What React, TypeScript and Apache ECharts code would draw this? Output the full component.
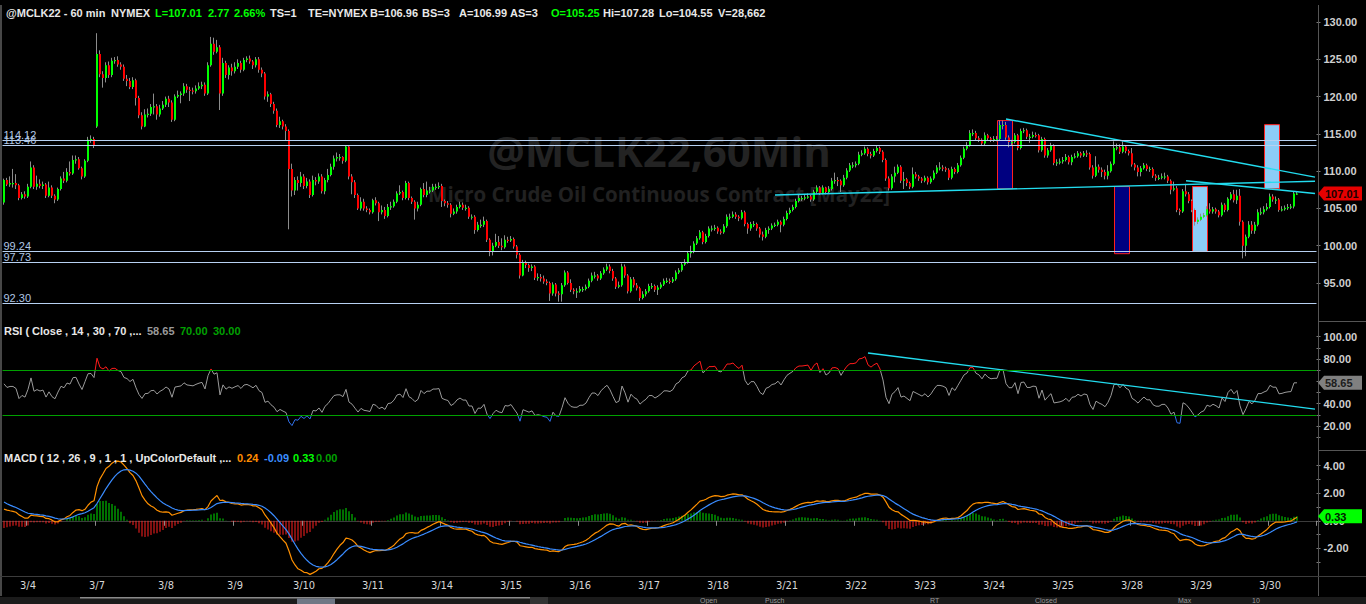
import React, { useEffect, useRef } from 'react';
import * as echarts from 'echarts';

// ---------- data ----------
const dayLabels = ['3/4', '3/7', '3/8', '3/9', '3/10', '3/11', '3/14', '3/15', '3/16', '3/17', '3/18', '3/21', '3/22', '3/23', '3/24', '3/25', '3/28', '3/29', '3/30'];
const prevDayLabel = '3/3';
const FIRST_LABEL_BAR = 8;
const BARS_PER_DAY = 23;
const EMPTY_BARS_RIGHT = 6;

// closes before the visible window (indicator warm-up)
const warmupCloses = [96.8, 97.2, 96.9, 97.5, 98.1, 97.8, 98.4, 98.9, 98.6, 99.2, 99.8, 99.5, 100.1, 99.7, 100.4, 100.9, 100.6, 101.2, 100.8, 101.3, 102.1, 102.9, 102.5, 103.6, 104.4, 104.1, 105.3, 106.2, 105.8, 107.1, 108.0, 107.6, 108.9, 109.8, 110.6, 111.2, 110.4, 110.9, 109.8, 110.3, 109.5, 108.8, 109.4, 108.6, 107.9, 108.5, 107.7, 108.2, 107.4, 106.9];

// hourly bars: [open, close, low, high]
const ohlc: number[][] = [
  [105.8,108.8,105.5,109.0],[108.8,108.2,108.0,109.1],[108.2,108.4,107.9,109.3],[108.4,108.4,107.8,110.3],[108.4,108.1,107.6,109.6],[108.1,106.4,106.1,108.3],[106.4,106.9,106.2,107.2],[106.9,106.6,106.3,107.3],
  [106.6,107.9,106.4,108.3],[107.9,110.5,107.7,111.3],[110.5,107.9,107.6,110.8],[107.9,108.3,107.5,109.4],[108.3,108.0,107.7,108.9],[108.0,108.2,107.6,108.6],[108.2,106.7,106.4,108.4],[106.7,107.8,106.5,108.6],
  [107.8,106.7,106.4,108.1],[106.7,106.2,105.7,106.9],[106.2,107.6,106.0,107.8],[107.6,109.0,107.4,109.3],[109.0,108.7,108.4,109.9],[108.7,109.9,108.5,110.4],[109.9,109.7,109.4,111.3],[109.7,111.5,109.5,112.1],
  [111.5,111.6,111.0,112.1],[111.6,110.4,110.2,111.9],[110.4,109.3,108.9,110.6],[109.3,111.4,109.1,111.6],[111.4,114.2,111.2,114.6],[114.2,114.3,113.8,114.8],[114.3,113.5,113.1,114.6],[116.0,125.7,115.8,128.5],
  [125.7,123.0,122.6,126.2],[123.0,122.5,121.2,123.4],[122.5,124.2,121.9,124.6],[124.2,122.9,122.5,124.7],[122.9,124.8,122.6,125.2],[124.8,124.9,124.4,125.3],[124.9,124.3,124.0,125.4],[124.3,124.0,123.6,124.6],
  [124.0,122.4,122.1,124.3],[122.4,122.1,121.4,122.9],[122.1,121.3,121.0,122.5],[121.3,122.2,121.0,122.6],[122.2,119.8,118.8,122.4],[119.8,117.5,117.1,120.1],[117.5,116.0,115.6,117.9],[116.0,117.6,115.9,118.3],
  [117.6,117.7,117.2,118.4],[117.7,118.6,117.4,119.0],[118.6,118.7,117.6,120.4],[118.7,117.6,116.9,119.0],[117.6,118.4,117.3,118.9],[118.4,118.9,118.2,119.4],[118.9,119.7,118.6,120.0],[119.7,119.2,118.6,120.1],
  [119.2,116.9,116.6,119.5],[116.9,120.0,116.7,120.3],[120.0,120.2,119.8,120.8],[120.2,120.4,119.1,120.7],[120.4,121.4,120.1,121.8],[121.4,120.9,120.5,121.7],[120.9,120.8,119.4,121.3],[120.8,120.7,120.3,121.2],
  [120.7,121.1,120.4,121.5],[121.1,121.4,120.9,121.9],[121.4,121.6,121.0,122.0],[121.6,120.4,120.1,121.9],[120.4,124.2,120.2,124.6],[124.2,127.1,124.0,128.0],[127.1,126.0,125.6,127.9],[126.0,126.6,125.8,127.6],
  [126.6,120.4,118.2,126.9],[120.4,124.5,120.1,125.2],[124.5,122.9,122.5,124.8],[122.9,123.9,122.3,124.2],[123.9,123.4,122.8,124.4],[123.4,124.0,123.1,124.6],[124.0,124.5,123.7,125.0],[124.5,123.6,123.2,124.8],
  [123.6,124.9,123.4,125.2],[124.9,125.1,124.6,125.4],[125.1,124.7,124.4,125.5],[124.7,124.2,123.7,124.9],[124.2,125.0,123.9,125.3],[125.0,123.6,123.2,125.3],[123.6,123.1,122.6,123.9],[123.1,120.0,119.6,123.3],
  [120.0,120.3,119.3,120.7],[120.3,119.0,118.6,120.5],[119.0,118.1,117.7,119.3],[118.1,116.2,115.9,118.4],[116.2,116.7,115.8,117.3],[116.7,116.0,115.6,116.9],[116.0,115.4,114.1,116.3],[115.4,110.3,102.2,115.6],
  [110.3,107.4,106.6,111.0],[107.4,108.8,106.8,109.2],[108.8,108.4,107.4,109.3],[108.4,109.3,107.9,109.9],[109.3,108.0,107.6,109.6],[108.0,108.6,107.7,109.1],[108.6,106.8,106.4,108.9],[106.8,108.8,106.6,109.4],
  [108.8,108.6,108.1,109.2],[108.6,109.3,108.3,109.7],[109.3,107.3,107.0,109.6],[107.3,108.8,106.9,109.1],[108.8,109.5,108.5,110.3],[109.5,110.6,109.3,111.0],[110.6,111.7,110.2,112.1],[111.7,111.9,111.3,112.5],
  [111.9,111.9,111.4,112.3],[111.9,111.4,111.0,112.0],[111.4,113.3,111.2,113.4],[113.3,109.3,108.9,113.4],[109.3,108.5,106.9,109.6],[108.5,106.8,106.4,108.8],[106.8,105.0,104.8,107.0],[105.0,105.9,104.7,106.5],
  [105.9,105.0,104.7,106.3],[105.0,104.8,104.5,105.3],[104.8,104.5,104.2,105.0],[104.5,106.1,104.3,106.3],[106.1,105.7,105.4,106.5],[105.7,104.5,103.3,105.9],[104.5,104.8,104.2,105.4],[104.8,104.0,103.6,105.2],
  [104.0,105.2,103.8,105.6],[105.2,105.3,104.8,105.9],[105.3,105.9,105.1,106.2],[105.9,107.0,105.7,107.3],[107.0,107.2,106.8,108.1],[107.2,106.4,106.1,107.4],[106.4,108.4,106.2,108.7],[108.4,106.4,106.1,108.6],
  [106.4,105.9,105.6,106.6],[105.9,105.0,103.5,106.1],[105.0,105.5,104.6,105.9],[105.5,107.6,105.3,107.8],[107.6,106.8,106.5,108.4],[106.8,107.4,106.5,108.6],[107.4,107.4,107.0,107.9],[107.4,107.9,107.2,108.3],
  [107.9,107.9,107.5,108.3],[107.9,108.0,107.6,108.5],[108.0,106.0,105.2,108.3],[106.0,105.7,105.3,106.2],[105.7,105.5,105.1,106.0],[105.5,104.3,103.8,105.7],[104.3,104.6,104.1,105.0],[104.6,105.2,104.3,105.5],
  [105.2,105.5,105.0,105.9],[105.5,105.1,104.8,105.8],[105.1,105.1,104.7,105.5],[105.1,103.9,103.6,105.3],[103.9,103.9,103.5,104.2],[103.9,102.1,101.6,104.1],[102.1,102.8,101.9,103.2],[102.8,102.8,102.4,103.5],
  [102.8,103.3,102.5,103.9],[103.3,100.8,100.5,103.5],[100.8,99.3,98.6,101.0],[99.3,100.0,98.7,100.4],[100.0,100.5,99.8,101.6],[100.5,100.0,99.7,101.3],[100.0,99.8,99.4,101.0],[99.8,100.8,99.6,101.4],
  [100.8,100.7,100.4,101.2],[100.7,100.9,100.5,101.3],[100.9,99.9,99.6,101.1],[99.9,98.8,98.3,100.1],[98.8,96.0,95.6,99.0],[96.0,97.8,95.9,98.1],[97.8,97.4,97.0,98.0],[97.4,97.0,96.5,97.6],
  [97.0,97.2,96.6,97.5],[97.2,95.7,95.4,97.4],[95.7,95.8,95.3,96.3],[95.8,95.6,95.2,96.2],[95.6,95.2,94.9,96.0],[95.2,95.0,94.7,95.5],[95.0,93.6,92.6,95.2],[93.6,94.8,93.3,95.1],
  [94.8,93.6,93.2,95.0],[93.6,93.5,92.5,93.9],[93.5,94.7,92.5,95.0],[94.7,96.4,94.5,96.7],[96.4,95.0,94.8,96.6],[95.0,94.1,93.8,95.5],[94.1,93.9,93.5,94.3],[93.9,93.9,93.0,94.3],
  [93.9,94.2,93.7,94.6],[94.2,94.2,93.8,94.5],[94.2,94.5,94.0,94.8],[94.5,95.3,94.3,95.6],[95.3,96.0,95.1,96.4],[96.0,96.0,95.6,96.5],[96.0,95.6,95.3,96.2],[95.6,96.3,95.4,96.6],
  [96.3,96.8,96.1,97.1],[96.8,97.2,96.6,97.6],[97.2,96.6,96.3,97.5],[96.6,95.6,95.3,96.9],[95.6,94.5,94.2,95.8],[94.5,94.7,94.3,95.2],[94.7,97.2,94.5,97.6],[97.2,96.0,95.7,97.5],
  [96.0,93.9,93.6,96.2],[93.9,95.5,93.7,95.8],[95.5,94.7,94.4,95.8],[94.7,94.3,94.0,95.0],[94.3,93.0,92.6,94.5],[93.0,93.5,92.8,93.9],[93.5,93.9,93.2,94.2],[93.9,94.6,93.7,94.9],
  [94.6,94.6,94.2,95.0],[94.6,94.1,93.8,94.8],[94.1,94.4,93.4,94.7],[94.4,94.8,94.2,95.1],[94.8,95.3,94.6,95.6],[95.3,95.3,95.0,95.7],[95.3,95.2,94.9,95.6],[95.2,95.5,95.0,95.8],
  [95.5,96.4,95.3,96.7],[96.4,96.7,96.2,97.0],[96.7,97.5,96.5,97.8],[97.5,97.8,97.3,98.2],[97.8,99.0,97.6,99.3],[99.0,99.2,98.4,100.0],[99.2,100.3,99.0,100.6],[100.3,101.0,100.1,101.3],
  [101.0,101.8,100.8,102.1],[101.8,100.5,100.2,102.0],[100.5,101.3,100.3,101.6],[101.3,102.3,101.1,102.6],[102.3,102.3,101.9,102.7],[102.3,102.4,102.0,102.8],[102.4,101.9,101.6,102.6],[101.9,101.8,101.5,102.2],
  [101.8,102.6,101.6,102.9],[102.6,103.9,102.4,104.2],[103.9,103.9,103.5,104.3],[103.9,104.2,103.7,104.6],[104.2,103.9,103.6,104.5],[103.9,103.7,103.3,104.1],[103.7,104.5,103.5,104.8],[104.5,102.9,102.6,104.7],
  [102.9,102.3,101.6,103.1],[102.3,102.9,102.0,103.2],[102.9,102.9,102.5,103.3],[102.9,102.3,102.0,103.1],[102.3,101.5,101.1,102.5],[101.5,101.2,100.7,101.9],[101.2,102.1,101.0,102.4],[102.1,102.3,101.6,102.6],
  [102.3,102.7,102.1,103.0],[102.7,102.8,102.5,103.1],[102.8,103.2,102.6,103.5],[103.2,102.8,101.8,103.4],[102.8,103.6,102.6,103.9],[103.6,104.4,103.4,104.7],[104.4,104.8,104.2,105.1],[104.8,105.2,104.6,105.5],
  [105.2,106.0,105.0,106.3],[106.0,106.4,105.8,106.8],[106.4,106.4,106.0,106.7],[106.4,106.5,106.1,106.9],[106.5,106.6,106.3,107.0],[106.6,106.2,105.9,106.8],[106.2,107.25,106.0,107.5],[107.25,107.8,107.0,108.1],
  [107.8,107.0,106.8,108.0],[107.0,107.8,106.9,108.1],[107.8,107.2,106.9,107.9],[107.2,107.6,107.0,108.0],[107.6,108.7,107.4,109.1],[108.7,108.8,108.3,109.8],[108.8,108.7,108.0,109.2],[108.7,108.1,107.2,108.9],
  [108.1,109.1,107.9,109.5],[109.1,110.1,108.9,110.4],[110.1,110.8,109.9,111.1],[110.8,110.8,110.4,111.2],[110.8,111.0,110.5,111.3],[111.0,112.2,110.8,112.6],[112.2,112.4,112.0,112.8],[112.4,113.0,112.2,113.3],
  [113.0,112.3,112.0,113.2],[112.3,112.1,111.7,112.6],[112.1,112.7,111.9,113.0],[112.7,113.1,112.5,113.5],[113.1,112.6,112.3,113.3],[112.6,111.5,111.2,112.8],[111.5,109.0,108.7,111.7],[109.0,107.7,107.4,109.3],
  [107.7,109.3,107.5,109.6],[109.3,109.8,108.5,110.6],[109.8,110.6,109.6,110.9],[110.6,108.7,108.4,110.8],[108.7,108.9,107.6,109.9],[108.9,108.4,108.0,109.1],[108.4,107.9,107.6,108.6],[107.9,109.6,107.7,110.5],
  [109.6,109.3,109.0,109.9],[109.3,109.0,108.7,109.5],[109.0,108.7,108.4,109.2],[108.7,109.1,108.5,109.4],[109.1,108.5,108.2,109.3],[108.5,109.0,108.3,109.3],[109.0,109.8,108.8,110.1],[109.8,110.5,109.6,110.8],
  [110.5,110.5,110.1,111.2],[110.5,110.4,110.0,110.8],[110.4,110.2,109.9,110.6],[110.2,109.1,108.8,110.4],[109.1,110.3,108.9,110.6],[110.3,109.9,109.6,110.5],[109.9,110.8,109.7,111.1],[110.8,111.8,110.6,112.1],
  [111.8,113.0,111.6,113.3],[113.0,113.5,112.8,113.9],[113.5,115.1,113.3,115.5],[115.1,115.1,114.7,115.6],[115.1,114.4,114.1,115.4],[114.4,114.2,113.9,114.7],[114.2,113.7,113.4,114.4],[113.7,114.8,113.5,115.2],
  [114.8,114.4,114.1,115.0],[114.4,114.2,113.9,114.6],[114.2,114.3,113.9,114.7],[114.3,114.3,114.0,114.7],[114.3,116.2,114.1,116.8],[116.2,116.2,115.6,116.8],[116.2,114.5,114.2,116.6],[114.5,113.9,113.2,114.8],
  [113.9,113.9,113.5,114.2],[113.9,114.8,113.7,115.1],[114.8,113.1,112.8,115.0],[113.1,115.4,112.9,115.7],[115.4,115.5,115.1,115.8],[115.5,114.6,114.3,115.7],[114.6,114.6,113.8,115.0],[114.6,114.85,114.4,115.3],
  [114.85,114.8,114.5,115.2],[114.8,112.8,112.5,115.0],[112.8,114.3,112.6,114.6],[114.3,112.1,111.8,114.5],[112.1,112.8,111.8,113.1],[112.8,113.4,112.6,113.8],[113.4,111.1,110.8,113.6],[111.1,111.2,110.7,111.6],
  [111.2,111.3,110.9,111.7],[111.3,111.5,111.0,111.9],[111.5,111.9,111.3,112.3],[111.9,111.2,110.9,112.1],[111.2,111.9,110.8,112.2],[111.9,112.0,111.7,112.4],[112.0,112.4,111.8,112.7],[112.4,112.1,111.8,112.6],
  [112.1,112.4,111.9,112.7],[112.4,112.3,111.9,112.8],[112.3,110.5,110.2,112.5],[110.5,109.4,109.0,110.8],[109.4,110.6,109.2,112.0],[110.6,110.2,109.8,110.9],[110.2,109.9,109.2,110.5],[109.9,109.4,108.9,110.2],
  [109.4,110.0,108.9,110.8],[110.0,111.0,109.8,111.3],[111.0,113.1,110.8,114.0],[113.1,113.2,112.8,113.7],[113.2,112.6,112.3,113.6],[112.6,113.3,112.4,114.0],[113.3,112.7,112.4,113.5],[112.7,112.4,112.1,112.9],
  [112.4,110.9,110.6,113.1],[110.9,110.5,110.1,111.1],[110.5,109.9,109.3,110.8],[109.9,110.4,109.3,110.7],[110.4,110.8,110.2,111.1],[110.8,110.3,110.0,111.0],[110.3,110.3,109.9,110.6],[110.3,109.4,109.1,110.5],
  [109.4,109.1,108.7,109.6],[109.1,109.1,108.8,109.5],[109.1,109.3,108.9,109.7],[109.3,109.3,108.9,109.8],[109.3,108.7,108.4,109.5],[108.7,107.5,106.9,108.9],[107.5,107.7,107.3,108.6],[107.7,104.8,104.5,108.0],
  [104.8,104.6,104.1,105.0],[104.6,107.3,104.4,107.6],[107.3,106.9,106.6,108.3],[106.9,106.0,105.7,107.2],[106.0,104.8,104.5,106.2],[104.8,103.2,102.7,105.0],[103.2,103.5,102.9,103.8],[103.5,103.9,103.3,104.3],
  [103.9,104.1,103.7,104.4],[104.1,104.9,103.9,105.3],[104.9,104.6,104.3,105.7],[104.6,104.9,104.3,105.2],[104.9,104.6,104.3,105.1],[104.6,104.1,103.8,104.8],[104.1,105.5,103.9,105.8],[105.5,104.8,104.5,105.7],
  [104.8,106.3,104.6,106.5],[106.3,106.9,106.1,107.2],[106.9,106.1,105.8,107.5],[106.1,106.7,105.6,107.5],[106.7,103.2,102.7,107.6],[103.2,100.0,98.3,103.4],[100.0,101.2,98.6,101.5],[101.2,102.8,101.0,103.3],
  [102.8,102.0,101.6,103.3],[102.0,102.8,101.6,103.2],[102.8,104.5,102.6,104.9],[104.5,104.5,104.1,105.1],[104.5,104.9,104.2,105.3],[104.9,105.2,104.7,105.7],[105.2,106.6,105.0,107.0],[106.6,106.2,105.9,106.9],
  [106.2,106.2,105.6,106.6],[106.2,104.8,104.55,106.4],[104.8,104.9,104.6,105.3],[104.9,105.1,104.7,105.4],[105.1,105.2,104.8,105.6],[105.2,105.25,104.9,105.6],[105.25,107.0,105.0,107.28],[107.0,107.01,106.8,107.2],
];

const priceLevels = [114.12, 113.46, 99.24, 97.73, 92.3];
const priceTickValues = [95, 100, 105, 110, 115, 120, 125, 130];
const rsiTickMarks = [10, 20, 30, 40, 50, 60, 70, 80, 90, 100];
const rsiTickLabels = [20, 40, 60, 80, 100];
const rsiBands = [70, 30];
const macdTickMarks = [-3, -2, -1, 0, 1, 2, 3, 4];
const macdTickLabels = [-2, 0, 2, 4];

// trend lines: [barIndex, value]
const priceTrendLines = [
  [[334, 117.0], [437, 109.2]],
  [[257, 106.8], [437, 108.65]],
  [[394, 108.72], [437, 107.0]],
];
const rsiTrendLine = [[288, 85.4], [437, 35.2]];

// zone boxes: [fromBar, toBar, topPrice, bottomPrice, kind]
const zoneBoxes: (number | string)[][] = [
  [330.7, 335.7, 116.85, 107.7, 'dark'],
  [369.7, 374.7, 108.0, 99.0, 'dark'],
  [395.7, 400.7, 108.0, 99.3, 'light'],
  [419.7, 424.7, 116.3, 107.7, 'light'],
];

const lastPrice = 107.01;
const lastRsi = 58.65;
const lastMacdDiff = 0.33;

const WHITE = '#e8e8e8';
const GREEN = '#00ff00';
const DKGREEN = '#00a000';
const headerTokens: [string, number, string][] = [
  ['@MCLK22 - 60 min', 6, WHITE], ['NYMEX', 111, WHITE], ['L=107.01', 155, GREEN], ['2.77', 208, GREEN], ['2.66%', 234, GREEN],
  ['TS=1', 270, WHITE], ['TE=NYMEX', 308, WHITE], ['B=106.96', 370, WHITE], ['BS=3', 422, WHITE], ['A=106.99', 459, WHITE],
  ['AS=3', 510, WHITE], ['O=105.25', 551, GREEN], ['Hi=107.28', 603, WHITE], ['Lo=104.55', 659, WHITE], ['V=28,662', 718, WHITE],
];
const rsiHeaderTokens: [string, number, string][] = [
  ['RSI ( Close , 14 , 30 , 70 ,...', 4, WHITE], ['58.65', 147, '#9a9a9a'], ['70.00', 180, DKGREEN], ['30.00', 213, DKGREEN],
];
const macdHeaderTokens: [string, number, string][] = [
  ['MACD ( 12 , 26 , 9 , 1 , 1 , UpColorDefault ,...', 4, WHITE], ['0.24', 237, '#ff8c00'], ['-0.09', 264, '#3b8eff'], ['0.33', 293, GREEN], ['0.00', 316, DKGREEN],
];
const statusTokens: [string, number][] = [['Open', 700], ['Pusch', 765], ['RT', 930], ['Closed', 1035], ['Max', 1178], ['10', 1252]];

// ---------- indicators ----------
function computeRsi(cl: number[], period: number) {
  const out: (number | null)[] = cl.map(() => null);
  let g = 0, l = 0;
  for (let t = 1; t <= period; t++) { const d = cl[t] - cl[t - 1]; if (d > 0) g += d; else l -= d; }
  g /= period; l /= period;
  out[period] = l === 0 ? 100 : 100 - 100 / (1 + g / l);
  for (let t = period + 1; t < cl.length; t++) {
    const d = cl[t] - cl[t - 1];
    g = (g * (period - 1) + Math.max(d, 0)) / period;
    l = (l * (period - 1) + Math.max(-d, 0)) / period;
    out[t] = l === 0 ? 100 : 100 - 100 / (1 + g / l);
  }
  return out;
}
function ema(arr: number[], n: number) {
  const k = 2 / (n + 1);
  const out: number[] = [];
  let e = arr[0];
  for (const v of arr) { e = e + k * (v - e); out.push(e); }
  return out;
}

const FONT = '"Liberation Sans", Arial, sans-serif';

function textEl(text: string, x: number, y: number, fill: string, size = 11, weight = 'bold', extra: any = {}) {
  return {
    type: 'text', x, y, silent: true, z: extra.z ?? 5,
    style: { text, fill, fontSize: size, fontWeight: weight, fontFamily: extra.family ?? FONT, align: extra.align ?? 'left', verticalAlign: 'middle', textAlign: extra.align ?? 'left', textVerticalAlign: 'middle' },
  };
}

export default function App() {
  const ref = useRef<HTMLDivElement>(null);
  useEffect(() => {
    if (!ref.current) return;
    const chart = echarts.init(ref.current, null, { renderer: 'svg' });

    const totalBars = ohlc.length + EMPTY_BARS_RIGHT;
    const categories = Array.from({ length: totalBars }, (_, i) => {
      const d = i - FIRST_LABEL_BAR;
      if (d < 0) return prevDayLabel + ' ' + i;
      const di = Math.floor(d / BARS_PER_DAY);
      return (dayLabels[Math.min(di, dayLabels.length - 1)]) + ' ' + (d % BARS_PER_DAY) + (di >= dayLabels.length ? 'x' + i : '');
    });
    const isDayStart = (idx: number) => idx >= FIRST_LABEL_BAR && (idx - FIRST_LABEL_BAR) % BARS_PER_DAY === 0 && idx < FIRST_LABEL_BAR + dayLabels.length * BARS_PER_DAY;

    const closes = ohlc.map((d) => d[1]);
    const all = warmupCloses.concat(closes);
    const rsiAll = computeRsi(all, 14);
    const e12 = ema(all, 12), e26 = ema(all, 26);
    const macdAll = e12.map((v, i) => v - e26[i]);
    const sigAll = ema(macdAll, 9);
    const off = warmupCloses.length;
    const rsi = rsiAll.slice(off);
    const macd = macdAll.slice(off);
    const sig = sigAll.slice(off);
    const hist = macd.map((v, i) => v - sig[i]);

    const gridLeft = 2.5;
    const gridWidth = 3 * totalBars;
    const gridRight = 1366 - gridLeft - gridWidth;

    const candleData = ohlc.map((d, i) => [i, d[0], d[1], d[2], d[3]]);

    const option: any = {
      animation: false,
      backgroundColor: '#000000',
      grid: [
        { left: gridLeft, right: gridRight, top: 5, height: 313 },
        { left: gridLeft, right: gridRight, top: 323, height: 127 },
        { left: gridLeft, right: gridRight, top: 451, height: 125 },
      ],
      xAxis: [0, 1, 2].map((g) => ({
        type: 'category', gridIndex: g, data: categories, boundaryGap: true,
        show: g === 2,
        axisLine: { show: g === 2, lineStyle: { color: '#3c3c3c' } },
        axisTick: { show: g === 2, interval: (idx: number) => isDayStart(idx), length: 5, lineStyle: { color: '#8a8a8a' } },
        axisLabel: {
          show: g === 2, interval: (idx: number) => isDayStart(idx), formatter: (v: string) => v.split(' ')[0],
          color: '#d6d6d6', fontSize: 11, margin: 4, fontFamily: '"Liberation Sans Narrow", "DejaVu Sans Condensed", Arial, sans-serif',
        },
        splitLine: { show: false },
      })),
      yAxis: [
        { min: 90.31, max: 132.28, ticks: priceTickValues, labels: priceTickValues },
        { min: -1.5, max: 112.28, ticks: rsiTickMarks, labels: rsiTickLabels },
        { min: -4.01, max: 5.07, ticks: macdTickMarks, labels: macdTickLabels },
      ].map((a, g) => ({
        type: 'value', gridIndex: g, position: 'right', min: a.min, max: a.max,
        splitLine: { show: false }, axisLine: { show: false },
        axisTick: { show: true, customValues: a.ticks, length: 4, lineStyle: { color: '#7a7a7a' } },
        axisLabel: { customValues: a.labels, formatter: (v: number) => v.toFixed(2), color: '#cfcfcf', fontSize: 11, fontWeight: 'bold', margin: 7, fontFamily: FONT },
      })),
      visualMap: [{
        show: false, type: 'piecewise', seriesIndex: 6, dimension: 1,
        pieces: [{ lt: 30, color: '#2f6fe8' }, { gte: 30, lte: 70, color: '#9a9a9a' }, { gt: 70, color: '#ff1a1a' }],
      }],
      series: [
        // 0 zone boxes
        {
          type: 'custom', xAxisIndex: 0, yAxisIndex: 0, z: 1, silent: true,
          data: zoneBoxes.map((b) => [b[0], b[1], b[2], b[3], b[4] === 'dark' ? 0 : 1]),
          encode: { x: [0, 1], y: [2, 3] },
          renderItem: (params: any, api: any) => {
            const p1 = api.coord([api.value(0), api.value(2)]);
            const p2 = api.coord([api.value(1), api.value(3)]);
            return {
              type: 'rect', shape: { x: p1[0] + 0.5, y: p1[1] + 0.5, width: p2[0] - p1[0], height: p2[1] - p1[1] },
              style: { fill: api.value(4) === 0 ? '#000080' : '#8ccdf7', stroke: '#ff2020', lineWidth: 1 },
            };
          },
        },
        // 1 candles
        {
          type: 'custom', xAxisIndex: 0, yAxisIndex: 0, z: 3, silent: true,
          data: candleData, encode: { x: 0, y: [1, 2, 3, 4] },
          renderItem: (params: any, api: any) => {
            const i = api.value(0), o = api.value(1), c = api.value(2), lo = api.value(3), hi = api.value(4);
            const pO = api.coord([i, o]), pC = api.coord([i, c]), pL = api.coord([i, lo]), pH = api.coord([i, hi]);
            const cx = Math.round(pO[0]);
            const top = Math.min(pO[1], pC[1]);
            let h = Math.abs(pO[1] - pC[1]);
            if (h < 1.2) h = 1.2;
            return {
              type: 'group', children: [
                { type: 'line', shape: { x1: cx - 0.5, y1: pH[1], x2: cx - 0.5, y2: pL[1] }, style: { stroke: '#8c8c8c', lineWidth: 1 } },
                { type: 'rect', shape: { x: cx - 1, y: top, width: 2, height: h }, style: { fill: c >= o ? '#00ff00' : '#ff0000' } },
              ],
            };
          },
        },
        // 2-4 price trend lines (levels attached to first)
        ...priceTrendLines.map((tl, k) => ({
          type: 'line', xAxisIndex: 0, yAxisIndex: 0, z: 4, silent: true, symbol: 'none',
          data: tl, lineStyle: { color: '#22dcef', width: 1.4 },
          markLine: k === 0 ? {
            silent: true, symbol: ['none', 'none'], animation: false,
            lineStyle: { color: '#b7d1f2', width: 1, type: 'solid' },
            label: { show: true, position: 'insideStartTop', formatter: (p: any) => Number(p.value).toFixed(2), color: '#b0c6e4', fontSize: 11, fontFamily: FONT, distance: [1, 0] },
            emphasis: { disabled: true },
            data: priceLevels.map((v) => ({ yAxis: v })),
          } : undefined,
        })),
        // 5 rsi trend line
        {
          type: 'line', xAxisIndex: 1, yAxisIndex: 1, z: 4, silent: true, symbol: 'none',
          data: rsiTrendLine, lineStyle: { color: '#22dcef', width: 1.3 },
        },
        // 6 rsi
        {
          type: 'line', xAxisIndex: 1, yAxisIndex: 1, z: 3, silent: true, symbol: 'none',
          data: rsi, lineStyle: { width: 1 },
          markLine: {
            silent: true, symbol: ['none', 'none'], animation: false,
            lineStyle: { color: '#00a000', width: 1, type: 'solid' }, label: { show: false },
            emphasis: { disabled: true },
            data: rsiBands.map((v) => ({ yAxis: v })),
          },
        },
        // 7 macd histogram
        {
          type: 'bar', xAxisIndex: 2, yAxisIndex: 2, z: 2, silent: true, barWidth: 1,
          data: hist.map((v) => ({ value: v, itemStyle: { color: v >= 0 ? '#00e000' : '#ff2020' } })),
        },
        // 8 macd
        {
          type: 'line', xAxisIndex: 2, yAxisIndex: 2, z: 3, silent: true, symbol: 'none',
          data: macd, lineStyle: { color: '#ff9000', width: 1.2 },
        },
        // 9 signal
        {
          type: 'line', xAxisIndex: 2, yAxisIndex: 2, z: 3, silent: true, symbol: 'none',
          data: sig, lineStyle: { color: '#3a8cff', width: 1.2 },
        },
      ],
    };
    chart.setOption(option);

    const yPrice = chart.convertToPixel({ yAxisIndex: 0 }, lastPrice) as number;
    const yRsi = chart.convertToPixel({ yAxisIndex: 1 }, lastRsi) as number;
    const yMacd = chart.convertToPixel({ yAxisIndex: 2 }, lastMacdDiff) as number;

    const tag = (y: number, fill: string, text: string, textFill: string) => [
      { type: 'polygon', z: 20, silent: true, shape: { points: [[1318, y], [1324, y - 7], [1362, y - 7], [1362, y + 7], [1324, y + 7]] }, style: { fill } },
      textEl(text, 1325, y + 0.5, textFill, 11, 'bold', { z: 21 }),
    ];

    const graphics: any[] = [
      // watermark
      textEl('@MCLK22,60Min', 659, 150, '#232323', 42, 'bold', { align: 'center', family: '"Open Sans", "Noto Sans", sans-serif', z: 0 }),
      textEl('Micro Crude Oil Continuous Contract [May22]', 659, 194, '#212121', 20.5, 'bold', { align: 'center', family: '"Open Sans", "Noto Sans", sans-serif', z: 0 }),
      // frame pieces
      { type: 'rect', z: 1, silent: true, shape: { x: 0, y: 5, width: 2, height: 591 }, style: { fill: '#474747' } },
      { type: 'line', z: 6, silent: true, shape: { x1: 1318.5, y1: 5, x2: 1318.5, y2: 596 }, style: { stroke: '#555555', lineWidth: 1 } },
      { type: 'line', z: 6, silent: true, shape: { x1: 1318, y1: 321.5, x2: 1366, y2: 321.5 }, style: { stroke: '#555555', lineWidth: 1 } },
      { type: 'line', z: 6, silent: true, shape: { x1: 1318, y1: 450.5, x2: 1366, y2: 450.5 }, style: { stroke: '#555555', lineWidth: 1 } },
      { type: 'line', z: 6, silent: true, shape: { x1: 0, y1: 576.5, x2: 1366, y2: 576.5 }, style: { stroke: '#3c3c3c', lineWidth: 1 } },
      // bottom bar
      { type: 'rect', z: 6, silent: true, shape: { x: 0, y: 597, width: 1366, height: 7 }, style: { fill: '#1b1b1b' } },
      { type: 'rect', z: 7, silent: true, shape: { x: 80, y: 597, width: 450, height: 1.5 }, style: { fill: '#8a8a8a' } },
      { type: 'rect', z: 7, silent: true, shape: { x: 297, y: 598.5, width: 38, height: 5.5 }, style: { fill: '#6f7785' } },
      { type: 'rect', z: 7, silent: true, shape: { x: 530, y: 597, width: 18, height: 7 }, style: { fill: '#333333' } },
      ...statusTokens.map(([t, x]) => textEl(t, x, 600.5, '#9a9a9a', 7, 'normal', { z: 8 })),
      // headers
      ...headerTokens.map(([t, x, c]) => textEl(t, x, 13, c)),
      ...rsiHeaderTokens.map(([t, x, c]) => textEl(t, x, 331, c)),
      ...macdHeaderTokens.map(([t, x, c]) => textEl(t, x, 458, c)),
      // tags
      ...tag(yPrice, '#e60000', lastPrice.toFixed(2), '#1a0000'),
      ...tag(yRsi, '#808080', lastRsi.toFixed(2), '#1c1c1c'),
      ...tag(yMacd, '#00ff00', lastMacdDiff.toFixed(2), '#001a00'),
    ];
    chart.setOption({ graphic: graphics });

    return () => chart.dispose();
  }, []);
  return <div ref={ref} style={{ position: 'fixed', left: 0, top: 0, width: 1366, height: 604, background: '#000' }} />;
}
